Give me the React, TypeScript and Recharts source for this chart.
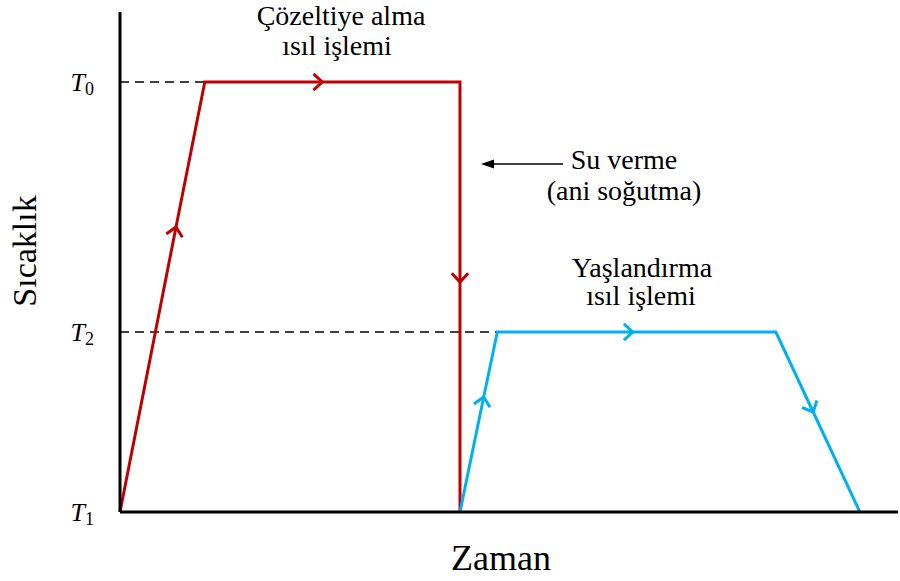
import React from "react";
import {
  LineChart,
  Line,
  XAxis,
  YAxis,
  ReferenceLine,
  Customized,
} from "recharts";

// temperature levels (arbitrary units)
const T_LEVELS = [0, 36, 86];
const T_SUBSCRIPTS: Record<number, string> = { 0: "1", 36: "2", 86: "0" };

// solution treatment + quench: time, temperature, arrow marker
const SOLUTION_TIME = [0, 7.2, 10.9, 26, 43.7, 43.7, 43.7];
const SOLUTION_TEMP = [0, 57, 86, 86, 86, 46, 0];
const SOLUTION_ARROW = [false, true, false, true, false, true, false];

// ageing treatment
const AGEING_TIME = [43.7, 46.75, 48.5, 65.9, 84.3, 89.1, 95.1];
const AGEING_TEMP = [0, 23, 36, 36, 36, 20, 0];
const AGEING_ARROW = [false, true, false, true, false, true, false];

const RED = "#c00000";
const BLUE = "#00b0f0";
const SERIF = '"Liberation Serif", "Times New Roman", serif';

const solutionData = SOLUTION_TIME.map((t, i) => ({
  t,
  temp: SOLUTION_TEMP[i],
  arrow: SOLUTION_ARROW[i],
}));
const ageingData = AGEING_TIME.map((t, i) => ({
  t,
  temp: AGEING_TEMP[i],
  arrow: AGEING_ARROW[i],
}));

// chevron pointing along the line direction, tip at the data point
const arrowDot = (color: string) => (props: any) => {
  const { cx, cy, index, payload, points } = props;
  const key = `dot-${color}-${index}`;
  if (!payload?.arrow || cx == null || !points) return <g key={key} />;
  const prev = points[index - 1];
  const next = points[index + 1];
  const a = Math.atan2(next.y - prev.y, next.x - prev.x);
  const len = 12;
  const spread = 0.75;
  const x1 = cx - len * Math.cos(a - spread);
  const y1 = cy - len * Math.sin(a - spread);
  const x2 = cx - len * Math.cos(a + spread);
  const y2 = cy - len * Math.sin(a + spread);
  return (
    <path
      key={key}
      d={`M${x1},${y1} L${cx},${cy} L${x2},${y2}`}
      fill="none"
      stroke={color}
      strokeWidth={3}
    />
  );
};

const TempTick = (props: any) => {
  const { x, y, payload } = props;
  return (
    <text
      x={x - 14}
      y={y + 9}
      textAnchor="end"
      fontFamily={SERIF}
      fill="#000"
    >
      <tspan fontSize={26} fontStyle="italic" fontFamily={SERIF}>
        T
      </tspan>
      <tspan fontSize={18} dy={4} fontFamily={SERIF}>
        {T_SUBSCRIPTS[payload.value]}
      </tspan>
    </text>
  );
};

const Label = ({
  x,
  y,
  size = 28,
  children,
  rotate,
}: {
  x: number;
  y: number;
  size?: number;
  children: React.ReactNode;
  rotate?: number;
}) => (
  <text
    x={x}
    y={y}
    fontFamily={SERIF}
    fontSize={size}
    fill="#000"
    textAnchor="middle"
    transform={rotate ? `rotate(${rotate} ${x} ${y})` : undefined}
  >
    {children}
  </text>
);

const Annotations = () => (
  <g>
    <Label x={341} y={25}>Çözeltiye alma</Label>
    <Label x={337} y={55}>ısıl işlemi</Label>
    <Label x={624} y={169}>Su verme</Label>
    <Label x={624} y={200}>(ani soğutma)</Label>
    <Label x={642} y={277}>Yaşlandırma</Label>
    <Label x={641} y={305}>ısıl işlemi</Label>
    <line x1={563} y1={164} x2={492} y2={164} stroke="#000" strokeWidth={1.5} />
    <path d="M481,164 L494,159.5 L494,168.5 Z" fill="#000" />
    <Label x={36} y={251} size={34} rotate={-90}>
      Sıcaklık
    </Label>
    <Label x={501} y={570} size={36}>
      Zaman
    </Label>
  </g>
);

export default function App() {
  return (
    <div
      style={{
        position: "absolute",
        left: 0,
        top: 0,
        width: 900,
        height: 581,
        background: "#fff",
      }}
    >
      <LineChart
        width={900}
        height={581}
        margin={{ top: 12, right: 2, bottom: 0, left: 0 }}
      >
        <XAxis
          type="number"
          dataKey="t"
          domain={[0, 100]}
          tick={false}
          tickLine={false}
          axisLine={{ stroke: "#000", strokeWidth: 3 }}
          height={69}
          allowDuplicatedCategory={false}
        />
        <YAxis
          type="number"
          dataKey="temp"
          domain={[0, 100]}
          ticks={T_LEVELS}
          tick={<TempTick />}
          tickLine={false}
          tickSize={0}
          tickMargin={12}
          axisLine={{ stroke: "#000", strokeWidth: 3 }}
          width={120}
        />
        <ReferenceLine
          segment={[
            { x: 0, y: SOLUTION_TEMP[2] },
            { x: SOLUTION_TIME[2], y: SOLUTION_TEMP[2] },
          ]}
          stroke="#000"
          strokeWidth={1.5}
          strokeDasharray="9 6"
        />
        <ReferenceLine
          segment={[
            { x: 0, y: AGEING_TEMP[2] },
            { x: AGEING_TIME[2], y: AGEING_TEMP[2] },
          ]}
          stroke="#000"
          strokeWidth={1.5}
          strokeDasharray="9 6"
        />
        <Line
          data={solutionData}
          dataKey="temp"
          type="linear"
          stroke={RED}
          strokeWidth={3}
          dot={arrowDot(RED)}
          activeDot={false}
          isAnimationActive={false}
        />
        <Line
          data={ageingData}
          dataKey="temp"
          type="linear"
          stroke={BLUE}
          strokeWidth={3}
          dot={arrowDot(BLUE)}
          activeDot={false}
          isAnimationActive={false}
        />
        <Customized component={Annotations} />
      </LineChart>
    </div>
  );
}
